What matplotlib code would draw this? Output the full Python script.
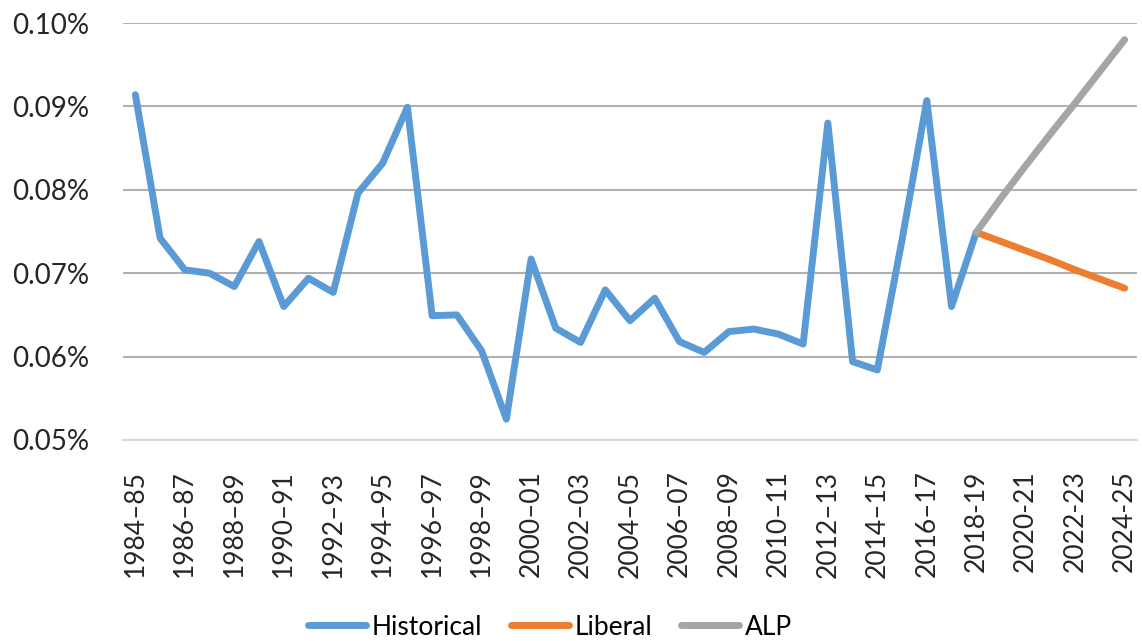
import numpy as np
import matplotlib
matplotlib.use('Agg')
import matplotlib.pyplot as plt

plt.rcParams['font.family'] = ['Lato', 'DejaVu Sans']

# categories: financial years 1984-85 .. 2024-25
start_years = list(range(1984, 2025))
categories = [f'{y}\u2013{str(y + 1)[-2:]}' if y < 2018 else f'{y}-{str(y + 1)[-2:]}'
              for y in start_years]

# values in per cent
historical = [0.0914, 0.0742, 0.0704, 0.0700, 0.0684, 0.0738, 0.0660, 0.0694, 0.0677,
              0.0796, 0.0832, 0.0899, 0.0649, 0.0650, 0.0607, 0.0525, 0.0717, 0.0634,
              0.0617, 0.0680, 0.0643, 0.0670, 0.0618, 0.0605, 0.0630, 0.0633, 0.0627,
              0.0615, 0.0880, 0.0594, 0.0584, 0.0740, 0.0907, 0.0660, 0.0749]
liberal = [0.0749, 0.0738, 0.0727, 0.0716, 0.0704, 0.0693, 0.0682]   # 2018-19 .. 2024-25
alp = [0.0749, 0.0790, 0.0829, 0.0867, 0.0904, 0.0942, 0.0980]       # 2018-19 .. 2024-25

yticks = [0.05, 0.06, 0.07, 0.08, 0.09, 0.10]

fig = plt.figure(figsize=(11.42, 6.41), dpi=100)
ax = fig.add_axes([123 / 1142, 1 - 440 / 641, (1137 - 123) / 1142, (440 - 23) / 641])

x_hist = np.arange(len(historical))
x_proj = np.arange(len(historical) - 1, len(historical) - 1 + len(liberal))
kw = dict(lw=5, solid_capstyle='round', solid_joinstyle='round')
ax.plot(x_hist, historical, color='#5B9BD5', label='Historical', **kw)
ax.plot(x_proj, liberal, color='#ED7D31', label='Liberal', **kw)
ax.plot(x_proj, alp, color='#A5A5A5', label='ALP', **kw)

ax.set_xlim(-0.5, len(categories) - 0.5)
ax.set_ylim(0.05, 0.10)
ax.set_yticks(yticks)
ax.set_yticklabels([f'{v:.2f}%' for v in yticks])
ax.set_xticks(np.arange(0, len(categories), 2))
ax.set_xticklabels(categories[::2], rotation=90)
ax.tick_params(axis='both', length=0, labelsize=19, colors='#262626')
ax.tick_params(axis='y', labelsize=20, pad=24)
ax.tick_params(axis='x', pad=22)

ax.grid(axis='y', color='#b0b0b0', lw=1.5)
ax.set_axisbelow(True)
for s in ['top', 'right', 'left']:
    ax.spines[s].set_visible(False)
ax.spines['bottom'].set_color('#d9d9d9')
ax.spines['bottom'].set_linewidth(1.5)

fig.legend(loc='lower center', bbox_to_anchor=(550 / 1142, -0.035), ncol=3, frameon=False,
           fontsize=19, handlelength=2.2, handletextpad=0.2, columnspacing=1.1)

fig.savefig('out.png', dpi=100)
